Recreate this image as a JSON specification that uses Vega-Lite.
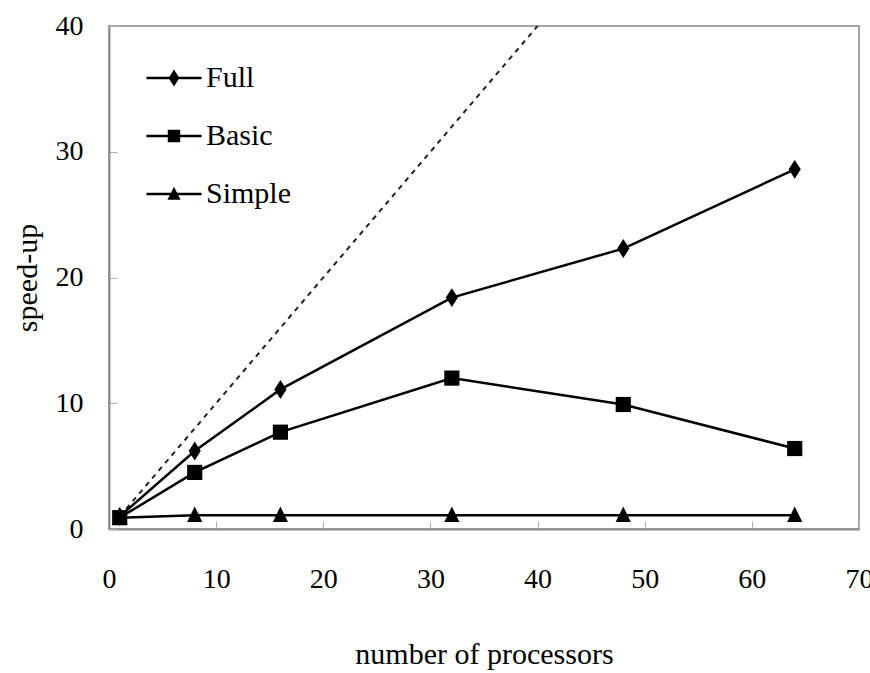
{
  "$schema": "https://vega.github.io/schema/vega-lite/v6.json",
  "width": 750,
  "height": 503,
  "autosize": {"type": "none"},
  "padding": {"left": 109, "top": 26, "right": 11, "bottom": 144},
  "background": "white",
  "config": {
    "font": "Liberation Serif",
    "view": {"stroke": "#a6a6a6", "strokeWidth": 2},
    "axis": {
      "labelFont": "Liberation Serif",
      "titleFont": "Liberation Serif",
      "labelFontSize": 28,
      "titleFontSize": 30,
      "titleFontWeight": "normal",
      "labelColor": "black",
      "titleColor": "black",
      "grid": false,
      "domainColor": "#8c8c8c",
      "domainWidth": 2,
      "tickColor": "#b0b0b0",
      "tickWidth": 1
    }
  },
  "datasets": {
    "series": [
      {"procs": 1, "speedup": 1, "series": "Full"},
      {"procs": 8, "speedup": 6.2, "series": "Full"},
      {"procs": 16, "speedup": 11.1, "series": "Full"},
      {"procs": 32, "speedup": 18.4, "series": "Full"},
      {"procs": 48, "speedup": 22.3, "series": "Full"},
      {"procs": 64, "speedup": 28.6, "series": "Full"},
      {"procs": 1, "speedup": 0.9, "series": "Basic"},
      {"procs": 8, "speedup": 4.5, "series": "Basic"},
      {"procs": 16, "speedup": 7.7, "series": "Basic"},
      {"procs": 32, "speedup": 12.0, "series": "Basic"},
      {"procs": 48, "speedup": 9.9, "series": "Basic"},
      {"procs": 64, "speedup": 6.4, "series": "Basic"},
      {"procs": 1, "speedup": 0.9, "series": "Simple"},
      {"procs": 8, "speedup": 1.1, "series": "Simple"},
      {"procs": 16, "speedup": 1.1, "series": "Simple"},
      {"procs": 32, "speedup": 1.1, "series": "Simple"},
      {"procs": 48, "speedup": 1.1, "series": "Simple"},
      {"procs": 64, "speedup": 1.1, "series": "Simple"}
    ],
    "ideal": [
      {"procs": 1, "speedup": 1},
      {"procs": 42, "speedup": 42}
    ]
  },
  "layer": [
    {
      "data": {"name": "ideal"},
      "mark": {"type": "line", "color": "#222222", "strokeWidth": 2, "strokeDash": [5, 5], "clip": true},
      "encoding": {
        "x": {"field": "procs", "type": "quantitative", "scale": {"domain": [0, 70], "nice": false},
          "axis": {"title": "number of processors", "values": [0, 10, 20, 30, 40, 50, 60, 70], "tickSize": -8, "labelPadding": 44, "titlePadding": 46, "labelFlush": false}},
        "y": {"field": "speedup", "type": "quantitative", "scale": {"domain": [0, 40], "nice": false},
          "axis": {"title": "speed-up", "values": [0, 10, 20, 30, 40], "tickSize": -8, "labelPadding": 34, "titlePadding": 13}}
      }
    },
    {
      "data": {"name": "series"},
      "mark": {"type": "line", "color": "black", "strokeWidth": 2.5},
      "encoding": {
        "x": {"field": "procs", "type": "quantitative"},
        "y": {"field": "speedup", "type": "quantitative"},
        "detail": {"field": "series"}
      }
    },
    {
      "data": {"name": "series"},
      "mark": {"type": "point", "filled": true, "color": "black", "opacity": 1, "size": 230},
      "encoding": {
        "x": {"field": "procs", "type": "quantitative"},
        "y": {"field": "speedup", "type": "quantitative"},
        "shape": {"field": "series", "type": "nominal", "legend": null,
          "scale": {"domain": ["Full", "Basic", "Simple"], "range": ["M0,-1.25L0.8,0L0,1.25L-0.8,0Z", "M-1,-1H1V1H-1Z", "M0,-1.15L1,0.9H-1Z"]}}
      }
    },
    {
      "data": {"name": "series"},
      "transform": [{"filter": "datum.procs == 1"}],
      "mark": {"type": "point", "filled": true, "color": "black", "opacity": 0, "size": 190},
      "encoding": {
        "x": {"field": "procs", "type": "quantitative"},
        "y": {"field": "speedup", "type": "quantitative"},
        "shape": {"field": "series", "type": "nominal",
          "scale": {"domain": ["Full", "Basic", "Simple"], "range": [
            "M-4,-0.18H4V0.18H-4ZM0,-1.25L0.78,0L0,1.25L-0.78,0Z",
            "M-4,-0.18H4V0.18H-4ZM-0.9,-0.9H0.9V0.9H-0.9Z",
            "M-4,-0.18H4V0.18H-4ZM0,-1.05L0.95,0.85H-0.95Z"]},
          "legend": {"title": null, "orient": "none", "legendX": 50, "legendY": 37, "padding": 0,
            "symbolSize": 190, "symbolOpacity": 1, "symbolFillColor": "black", "symbolStrokeColor": "black", "symbolStrokeWidth": 0,
            "labelFont": "Liberation Serif", "labelFontSize": 30, "labelColor": "black", "labelOffset": 17, "rowPadding": 28,
            "encode": {"symbols": {"update": {
              "fill": {"value": "black"},
              "opacity": {"value": 1},
              "fillOpacity": {"value": 1},
              "size": {"value": 190}
            }}}}}
      }
    }
  ],
  "resolve": {"scale": {"shape": "independent"}, "legend": {"shape": "independent"}}
}
